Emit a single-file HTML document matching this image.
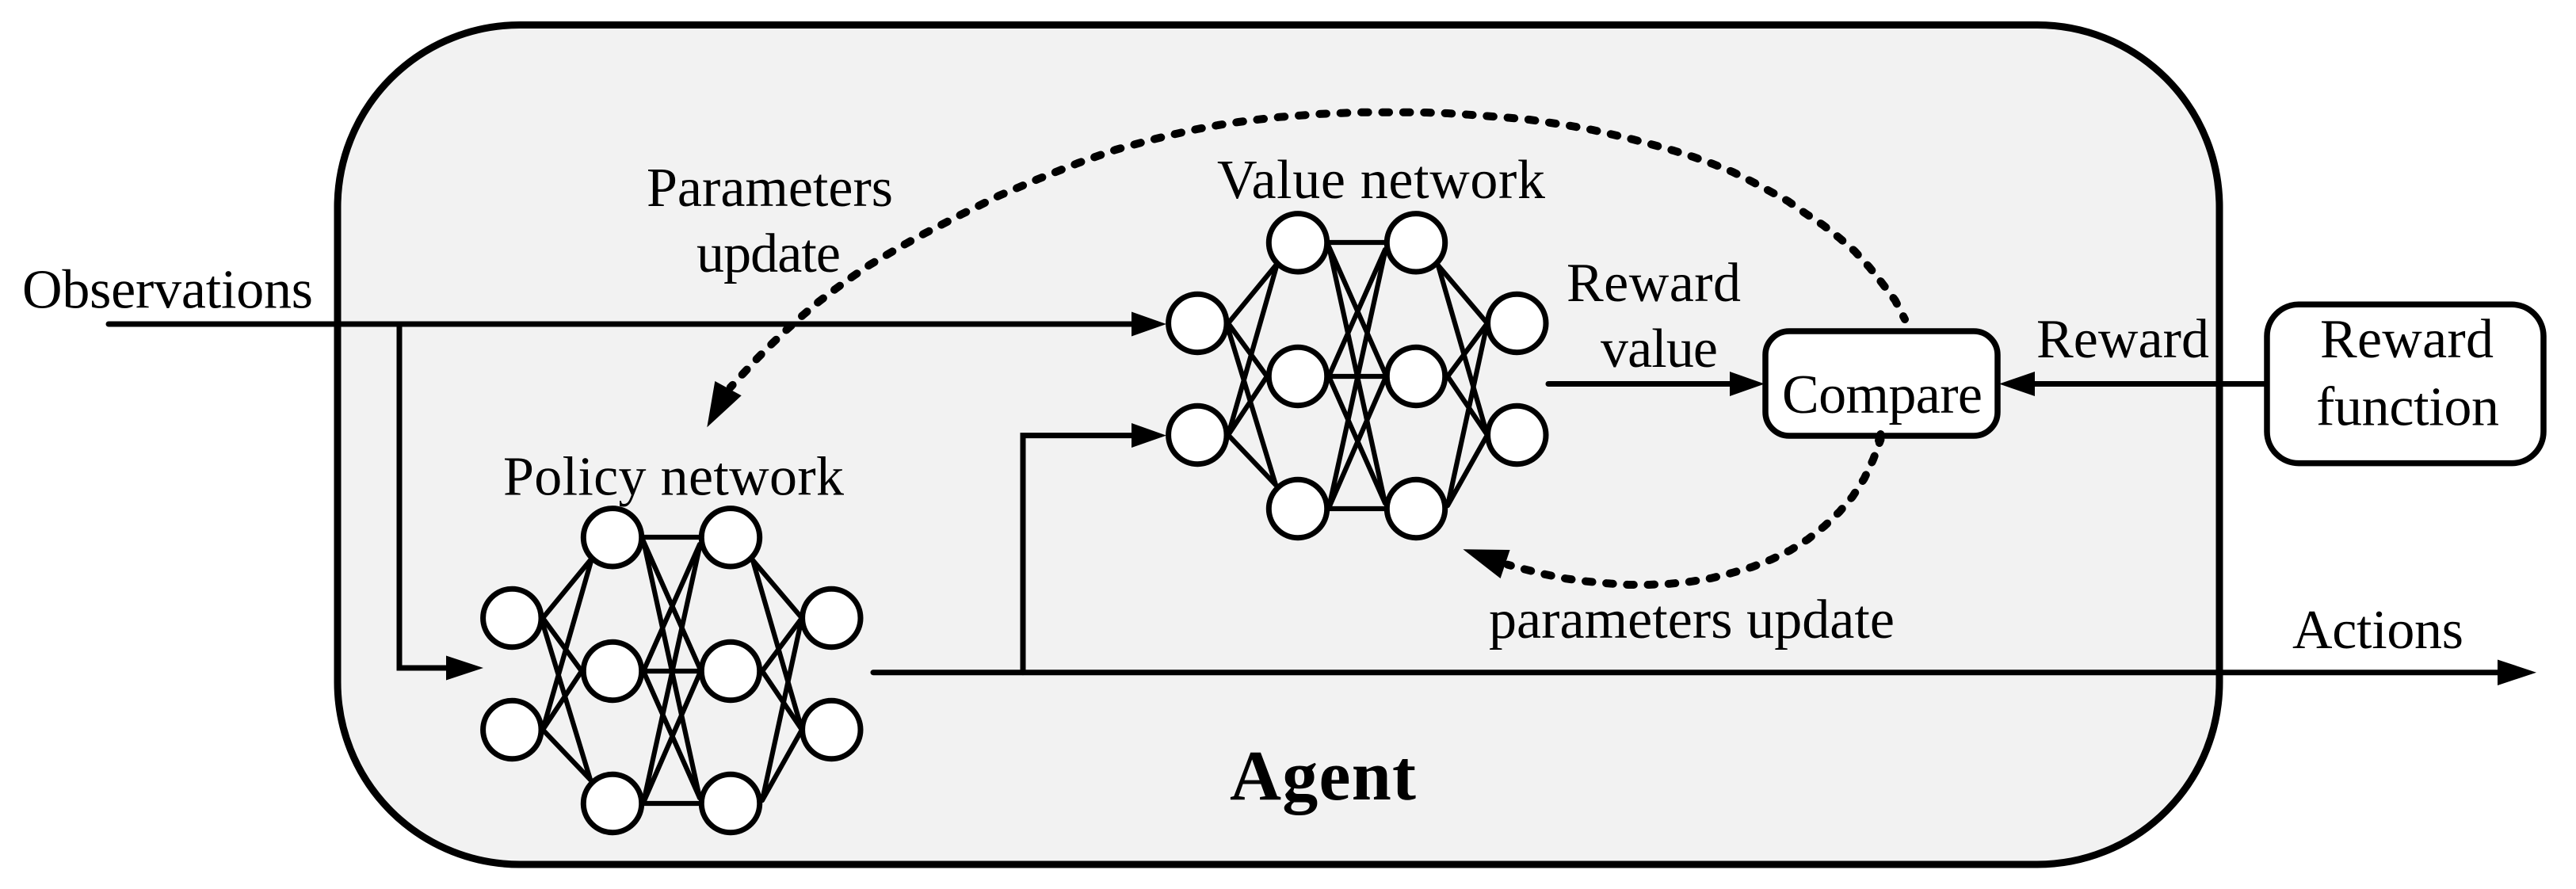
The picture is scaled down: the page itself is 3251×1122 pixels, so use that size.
<!DOCTYPE html>
<html>
<head>
<meta charset="utf-8">
<style>
html,body{margin:0;padding:0;background:#fff;}
svg{display:block;}
text{font-family:"Liberation Serif",serif;font-size:70px;fill:#000;}
</style>
</head>
<body>
<svg width="3251" height="1122" viewBox="0 0 3251 1122" xmlns="http://www.w3.org/2000/svg">
<defs>
<g id="net">
<g stroke="#000" stroke-width="6.2" fill="none" stroke-linecap="round">
<line x1="685" y1="780" x2="745" y2="707"/>
<line x1="685" y1="780" x2="734" y2="847"/>
<line x1="685" y1="787" x2="745" y2="984"/>
<line x1="685" y1="921" x2="746" y2="708"/>
<line x1="685" y1="921" x2="734" y2="847"/>
<line x1="685" y1="921" x2="745" y2="984"/>
<line x1="811" y1="678" x2="885" y2="678"/>
<line x1="812" y1="683" x2="883" y2="843"/>
<line x1="813" y1="687" x2="883" y2="1007"/>
<line x1="812" y1="847" x2="883" y2="687"/>
<line x1="812" y1="847" x2="885" y2="847"/>
<line x1="812" y1="847" x2="883" y2="1007"/>
<line x1="812" y1="1013" x2="883" y2="690"/>
<line x1="812" y1="1013" x2="883" y2="850"/>
<line x1="811" y1="1014" x2="885" y2="1014"/>
<line x1="950" y1="707" x2="1012" y2="780"/>
<line x1="950" y1="707" x2="1012" y2="921"/>
<line x1="962" y1="847" x2="1012" y2="780"/>
<line x1="962" y1="847" x2="1012" y2="921"/>
<line x1="962" y1="1010" x2="1012" y2="780"/>
<line x1="962" y1="1010" x2="1012" y2="921"/>
</g>
<g stroke="#000" stroke-width="7" fill="#fff">
<circle cx="646.3" cy="780" r="36.7"/>
<circle cx="646.3" cy="921" r="36.7"/>
<circle cx="773" cy="678.3" r="36.7"/>
<circle cx="773" cy="847" r="36.7"/>
<circle cx="773" cy="1014" r="36.7"/>
<circle cx="922" cy="678.3" r="36.7"/>
<circle cx="922" cy="847" r="36.7"/>
<circle cx="922" cy="1014" r="36.7"/>
<circle cx="1049.3" cy="780" r="36.7"/>
<circle cx="1049.3" cy="921" r="36.7"/>
</g>
</g>
</defs>

<rect x="0" y="0" width="3251" height="1122" fill="#fff"/>
<rect x="426" y="31.5" width="2375" height="1059.5" rx="230" ry="230" fill="#f2f2f2" stroke="#000" stroke-width="9"/>

<!-- solid connectors -->
<g stroke="#000" stroke-width="7" fill="none" stroke-linecap="round" stroke-linejoin="miter">
<line x1="137" y1="409" x2="1432" y2="409"/>
<polyline points="504,409 504,843 567,843"/>
<polyline points="1291,848.7 1291,549.6 1432,549.6"/>
<line x1="1102" y1="848.7" x2="3156" y2="848.7"/>
<line x1="1954" y1="484.5" x2="2187" y2="484.5"/>
<line x1="2564" y1="484.5" x2="2861" y2="484.5"/>
</g>
<g fill="#000">
<polygon points="1472,409 1428,393.5 1428,424.5"/>
<polygon points="610,843 563,827.5 563,858.5"/>
<polygon points="1472,549.6 1428,534 1428,565"/>
<polygon points="3201,848.7 3152,832.5 3152,865"/>
<polygon points="2227,484.5 2183,469 2183,500"/>
<polygon points="2523,484.5 2568,469 2568,500"/>
</g>

<!-- networks -->
<use href="#net"/>
<use href="#net" transform="translate(865,-372)"/>

<!-- dashed curves -->
<g stroke="#000" stroke-width="10" fill="none" stroke-linecap="round" stroke-linejoin="round" stroke-dasharray="8.5 17.5" stroke-dashoffset="4.25">
<polyline pathLength="1638" points="2404,403 2391.7,379 2375,357 2359,337 2340.7,317 2321,300 2300.7,284 2278,269 2256.7,254 2233,241 2210.7,229 2186.7,217 2162,207 2137,198 2112,190 2087,183 2061,176 2036,170 2010,164 1983,159 1957,155 1930,151 1903,148.5 1877,146.5 1853,144.7 1827,143 1800,142 1773,141.7 1746.7,141.7 1720,141.7 1693,142.7 1667.7,143.7 1641.7,145.7 1615,147.7 1589,150.7 1563,154 1537,158 1510.7,163 1485,168.7 1459,175 1433,182 1408,189 1385,197 1360,206 1335,216 1310,226 1285,236.7 1260.7,247 1236.7,259 1213,270.7 1190,282.7 1166.7,294.7 1143,307.7 1120.7,320.7 1098,334 1076,349 1054,365 1033,381 1013,398 994,415 975,433 956,452 937.7,471.7 921.7,489"/>
<polyline pathLength="546" points="2373.4,555 2364,580 2352.7,604 2338,626.7 2321.4,646 2302.5,664 2281.5,680.7 2259,694.7 2235.7,706 2211,715.7 2186,723 2160,729.7 2134,734 2108,736.7 2081.5,738 2055,738 2029,736.3 2002,733.7 1976.5,730.3 1950.3,725 1925,718.7 1902.7,712.7"/>
</g>
<g fill="#000">
<polygon points="892.3,539.3 902.3,481 935.7,499.3"/>
<polygon points="1846.4,693.3 1905.6,694 1893.6,730"/>
</g>

<!-- boxes -->
<rect x="2228" y="418" width="293" height="132" rx="30" ry="30" fill="#fff" stroke="#000" stroke-width="7.5"/>
<rect x="2861" y="384.3" width="349" height="200.3" rx="40" ry="40" fill="#fff" stroke="#000" stroke-width="7.5"/>
<line x1="2373.4" y1="548" x2="2371" y2="556" stroke="#000" stroke-width="10" stroke-linecap="round"/>

<!-- labels -->
<text x="28" y="388.6" textLength="367" lengthAdjust="spacing">Observations</text>
<text x="816" y="260" textLength="311" lengthAdjust="spacing">Parameters</text>
<text x="879" y="343" textLength="182" lengthAdjust="spacing">update</text>
<text x="635" y="624.7" textLength="430" lengthAdjust="spacing">Policy network</text>
<text x="1536" y="250" textLength="414" lengthAdjust="spacing">Value network</text>
<text x="1977" y="380" textLength="220" lengthAdjust="spacing">Reward</text>
<text x="2020" y="463" textLength="148" lengthAdjust="spacing">value</text>
<text x="2249" y="521" textLength="253" lengthAdjust="spacing">Compare</text>
<text x="2570" y="451" textLength="218" lengthAdjust="spacing">Reward</text>
<text x="2928" y="451" textLength="219" lengthAdjust="spacing">Reward</text>
<text x="2923" y="536.7" textLength="231" lengthAdjust="spacing">function</text>
<text x="1879" y="805" textLength="512" lengthAdjust="spacing">parameters update</text>
<text x="2893" y="818" textLength="216" lengthAdjust="spacing">Actions</text>
<text x="1552" y="1009" textLength="235" lengthAdjust="spacing" style="font-size:90px;font-weight:bold">Agent</text>
</svg>
</body>
</html>
